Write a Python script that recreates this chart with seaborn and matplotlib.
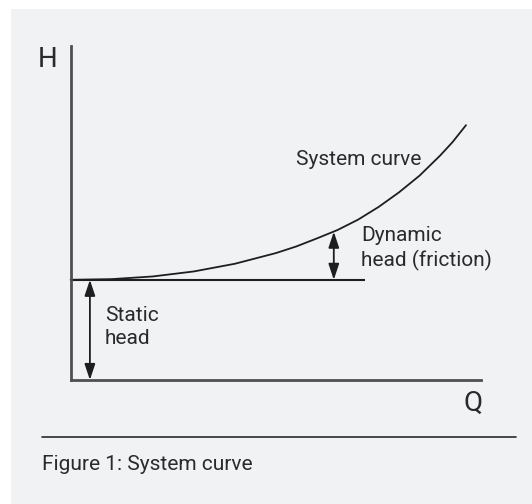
import matplotlib
matplotlib.use("Agg")
import matplotlib.pyplot as plt
import seaborn as sns
import pandas as pd
from matplotlib.patches import Rectangle
from matplotlib.lines import Line2D

# ---- data ----
flow_q = [0.0, 1.0, 2.0, 3.0, 4.0, 5.0, 5.5, 6.0, 6.5, 7.0, 7.5, 8.0, 8.5, 9.0, 9.3, 9.63]
system_h = [3.0, 3.02, 3.10, 3.25, 3.48, 3.80, 4.00, 4.24, 4.49, 4.80, 5.18, 5.62, 6.12,
            6.72, 7.12, 7.63]
static_head = 3.0
static_line_end = 7.16
dynamic_arrow_q = 6.41
dynamic_arrow_top = 4.44
static_arrow_q = 0.47

label_system = "System curve"
label_dynamic = "Dynamic\nhead (friction)"
label_static = "Static\nhead"
axis_h = "H"
axis_q = "Q"
caption = "Figure 1: System curve"

sns.set_theme(style="white")
plt.rcParams["font.family"] = ["Roboto", "DejaVu Sans"]

W, H = 532, 504
fig = plt.figure(figsize=(W / 100, H / 100), dpi=100)
fig.patch.set_facecolor("white")
fig.patches.append(Rectangle((10.7 / W, 0), 1, 1 - 9 / H, transform=fig.transFigure,
                             facecolor="#f1f2f4", edgecolor="none", zorder=-10))

ax = fig.add_axes([70.6 / W, 1 - 380 / H, 410.6 / W, 334 / H])
ax.set_zorder(5)
ax.set_facecolor("none")
ax.set_xlim(0, 10)
ax.set_ylim(0, 10)

df = pd.DataFrame({"Q": flow_q, "H": system_h})
sns.lineplot(data=df, x="Q", y="H", ax=ax, color="#1e1e1e", lw=1.3, clip_on=False)

ax.hlines(static_head, 0, static_line_end, color="#1e1e1e", lw=1.5)

arrow_kw = dict(arrowstyle="<|-|>,head_length=0.6,head_width=0.2", color="#1e1e1e",
                lw=1.3, mutation_scale=16, shrinkA=0, shrinkB=0)
ax.annotate("", xy=(dynamic_arrow_q, dynamic_arrow_top), xytext=(dynamic_arrow_q, static_head),
            arrowprops=arrow_kw)
ax.annotate("", xy=(static_arrow_q, static_head), xytext=(static_arrow_q, 0),
            arrowprops=arrow_kw)

txt_c = "#2a2a2a"
ax.text(5.49, 6.59, label_system, ha="left", va="center", fontsize=15, color=txt_c)
ax.text(7.08, 3.94, label_dynamic, ha="left", va="center", fontsize=15, color=txt_c,
        linespacing=1.25)
ax.text(0.84, 1.59, label_static, ha="left", va="center", fontsize=15, color=txt_c,
        linespacing=1.25)
ax.text(-0.56, 9.6, axis_h, ha="center", va="center", fontsize=20, color=txt_c, clip_on=False)
ax.text(9.79, -0.70, axis_q, ha="center", va="center", fontsize=20, color=txt_c, clip_on=False)

ax.set_xlabel("")
ax.set_ylabel("")
ax.set_xticks([])
ax.set_yticks([])
for s in ["top", "right"]:
    ax.spines[s].set_visible(False)
for s in ["left", "bottom"]:
    ax.spines[s].set_color("#505050")
    ax.spines[s].set_linewidth(2)

fig.lines.append(Line2D([42.4 / W, 515.8 / W], [1 - 436.7 / H] * 2, transform=fig.transFigure,
                        color="#2a2a2a", lw=1.2))
fig.text(42.4 / W, 1 - 465 / H, caption, ha="left", va="center", fontsize=15, color=txt_c)

fig.savefig("out.png", dpi=100)
